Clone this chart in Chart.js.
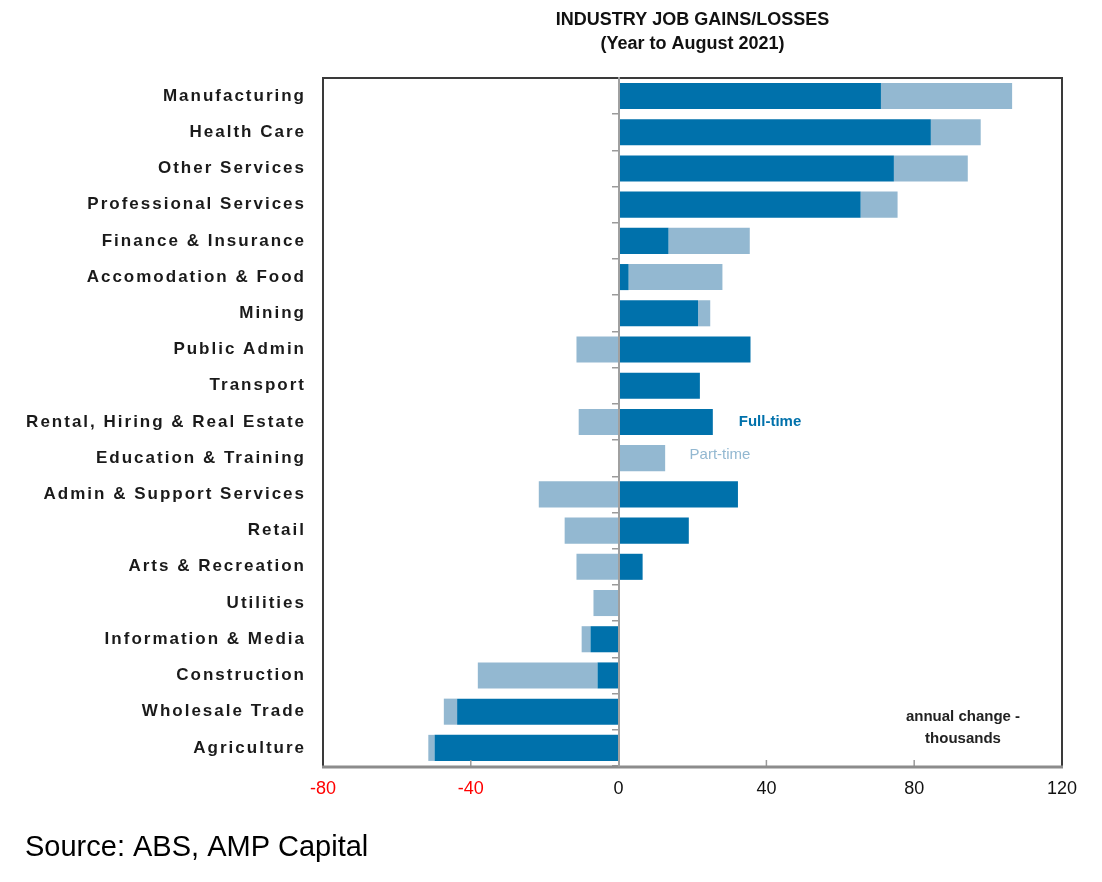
<!DOCTYPE html>
<html>
<head>
<meta charset="utf-8">
<script src="https://cdn.jsdelivr.net/npm/chart.js@4.4.1/dist/chart.umd.min.js"></script>
<style>
  html, body { margin: 0; padding: 0; background: #fff; }
  #wrap { width: 1102px; height: 882px; position: relative; }
</style>
</head>
<body>
<div id="wrap"><canvas id="myChart"></canvas></div>
<script>
let industries = ['Manufacturing', 'Health Care', 'Other Services', 'Professional Services',
  'Finance & Insurance', 'Accomodation & Food', 'Mining', 'Public Admin', 'Transport',
  'Rental, Hiring & Real Estate', 'Education & Training', 'Admin & Support Services',
  'Retail', 'Arts & Recreation', 'Utilities', 'Information & Media', 'Construction',
  'Wholesale Trade', 'Agriculture'];

// annual change, thousands
let full_time = [71, 84.5, 74.5, 65.5, 13.5, 2.7, 21.5, 35.7, 22, 25.5, 0, 32.3, 19, 6.5, 0, -7.6, -5.7, -43.7, -49.8];
let part_time = [35.5, 13.5, 20, 10, 22, 25.4, 3.3, -11.4, 0, -10.8, 12.6, -21.6, -14.6, -11.4, -6.8, -2.4, -32.4, -3.6, -1.7];

let x_min = -80;
let x_max = 120;
let x_step = 40;

const FONT = '"Liberation Sans", Arial, sans-serif';
const DARK = '#0071ab';
const LIGHT = '#93b8d1';

// frame, small ticks and the text notes inside the plot
const framePlugin = {
  id: 'frame',
  afterDatasetsDraw(chart) {
    const ctx = chart.ctx;
    const a = chart.chartArea;
    const xs = chart.scales.x;
    ctx.save();
    // small ticks on the bottom axis, pointing up
    ctx.strokeStyle = '#9a9a9a';
    ctx.lineWidth = 1.5;
    for (let v = x_min + x_step; v < x_max; v += x_step) {
      if (v === 0) continue;
      const px = xs.getPixelForValue(v);
      ctx.beginPath();
      ctx.moveTo(px, a.bottom);
      ctx.lineTo(px, a.bottom - 6);
      ctx.stroke();
    }
    ctx.strokeStyle = '#3a3a3a';
    ctx.lineWidth = 2;
    ctx.beginPath();
    ctx.moveTo(a.left, a.bottom);
    ctx.lineTo(a.left, a.top);
    ctx.lineTo(a.right, a.top);
    ctx.lineTo(a.right, a.bottom);
    ctx.stroke();
    ctx.strokeStyle = '#8c8c8c';
    ctx.lineWidth = 3;
    ctx.beginPath();
    ctx.moveTo(a.left - 1, a.bottom + 1);
    ctx.lineTo(a.right + 1, a.bottom + 1);
    ctx.stroke();
    ctx.restore();
    // the category labels are drawn next (ticks.z = 1), spaced out like the original
    ctx.letterSpacing = '2px';
  },
  afterDraw(chart) {
    const ctx = chart.ctx;
    ctx.letterSpacing = '0px';
    ctx.save();
    ctx.textAlign = 'center';
    ctx.textBaseline = 'middle';
    ctx.font = 'bold 15px ' + FONT;
    ctx.fillStyle = DARK;
    ctx.fillText('Full-time', 770, 422);
    ctx.font = '15px ' + FONT;
    ctx.fillStyle = LIGHT;
    ctx.fillText('Part-time', 720, 455);
    ctx.font = 'bold 15px ' + FONT;
    ctx.fillStyle = '#222';
    ctx.fillText('annual change -', 963, 717);
    ctx.fillText('thousands', 963, 739);
    ctx.restore();
  }
};

let data = {
  labels: industries,
  datasets: [{
    label: 'Full-time',
    backgroundColor: DARK,
    data: full_time,
  }, {
    label: 'Part-time',
    backgroundColor: LIGHT,
    data: part_time,
  }]
};

let config = {
  type: 'bar',
  data: data,
  options: {
    indexAxis: 'y',
    responsive: true,
    maintainAspectRatio: false,
    animation: false,
    layout: { padding: { left: 25, right: 40, top: 0, bottom: 0 } },
    datasets: {
      bar: { barPercentage: 0.72, categoryPercentage: 1 }
    },
    plugins: {
      legend: { display: false },
      tooltip: { enabled: false },
      title: {
        display: true,
        text: ['INDUSTRY JOB GAINS/LOSSES', '(Year to August 2021)'],
        color: '#111',
        font: { family: FONT, size: 18, weight: 'bold', lineHeight: 1.33 },
        padding: { top: 8, bottom: 22 },
        fullSize: false
      },
      subtitle: {
        display: true,
        position: 'bottom',
        align: 'start',
        fullSize: true,
        text: 'Source: ABS, AMP Capital',
        color: '#000',
        font: { family: FONT, size: 29, weight: 'normal', lineHeight: 1.2 },
        padding: { top: 8.6, bottom: 16.6 }
      }
    },
    scales: {
      x: {
        type: 'linear',
        stacked: true,
        min: x_min,
        max: x_max,
        grid: { display: false },
        border: { display: false },
        ticks: {
          stepSize: x_step,
          padding: 4,
          font: { family: FONT, size: 18 },
          color: (c) => c.tick.value < 0 ? '#ff0000' : '#111'
        },
        afterFit: (s) => { s.height = 56; }
      },
      y: {
        stacked: true,
        grid: { display: false },
        border: { display: false },
        ticks: {
          z: 1,
          padding: 9,
          color: '#1a1a1a',
          font: { family: FONT, size: 17, weight: 'bold' }
        },
        afterFit: (s) => { s.width = 298; }
      },
      y2: {
        type: 'category',
        axis: 'y',
        position: { x: 0 },
        offset: true,
        grid: { offset: true, drawOnChartArea: false, drawTicks: true, tickLength: 6, color: '#9a9a9a', lineWidth: 1.5 },
        border: { display: true, color: '#a0a0a0', width: 2, z: 1 },
        ticks: { display: false }
      }
    }
  },
  plugins: [framePlugin]
};

let myChart = new Chart(
  document.getElementById('myChart'),
  config
);
</script>
</body>
</html>
